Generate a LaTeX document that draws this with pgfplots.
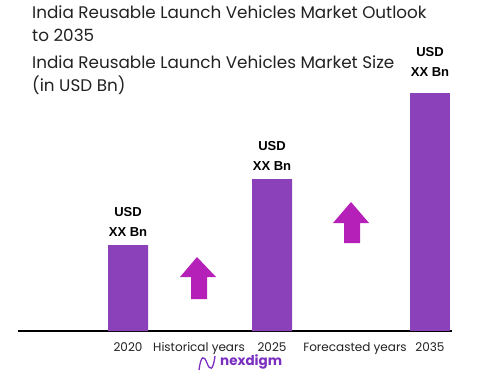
\documentclass[border=0pt]{standalone}
\usepackage{fontspec}
\setmainfont{Poppins}
\newfontfamily\labf{Liberation Sans}
\usepackage{pgfplots}
\pgfplotsset{compat=1.18}
\definecolor{barpurple}{HTML}{8A41B9}
\definecolor{arrowmag}{HTML}{B520B8}
\definecolor{titlegray}{HTML}{222222}
\definecolor{logopurple}{HTML}{7A2FC0}
\begin{document}
\begin{tikzpicture}[x=1pt,y=1pt]
\path[use as bounding box, fill=white] (0,0) rectangle (502,384);
\node[anchor=north west, inner sep=0, align=left, text=titlegray, font=\fontsize{16.8}{23}\selectfont] at (32,378)
  {India Reusable Launch Vehicles Market Outlook\\to 2035};
\node[anchor=north west, inner sep=0, align=left, text=titlegray, font=\fontsize{16.8}{23}\selectfont] at (32,328)
  {India Reusable Launch Vehicles Market Size\\(in USD Bn)};
\begin{axis}[
  at={(18pt,53pt)}, anchor=south west,
  scale only axis, width=434pt, height=271pt,
  xmin=18, xmax=452, ymin=0, ymax=271,
  axis x line=bottom, axis y line=none,
  x axis line style={-, line width=1.5pt, black},
  ytick=\empty,
  xtick={128,199,272,355,430},
  xticklabels={2020,Historical years,2025,Forecasted years,2035},
  major tick length=0pt,
  xticklabel style={font=\fontsize{12}{14}\selectfont, text=titlegray, yshift=-8pt},
  clip=false,
]
\addplot[ybar, bar width=40, fill=barpurple, draw=none,
  nodes near coords={\textbf{USD}\\[7pt]\textbf{XX Bn}},
  every node near coord/.append style={align=center, font=\labf\fontsize{13}{13}\selectfont, text=black, yshift=5pt}]
  coordinates {(128,86) (272,152)};
\addplot[ybar, bar width=40, fill=barpurple, draw=none,
  nodes near coords={\textbf{USD}\\[7pt]\textbf{XX Bn}},
  every node near coord/.append style={align=center, font=\labf\fontsize{13}{13}\selectfont, text=black, yshift=13pt}]
  coordinates {(430,238)};
\addplot[fill=arrowmag, draw=none] coordinates {(197,74) (216,54) (207,54) (207,32) (191,32) (191,54) (180,54)} -- cycle;
\addplot[fill=arrowmag, draw=none] coordinates {(351,129) (369,108) (360,108) (360,88) (344,88) (344,108) (333,108)} -- cycle;
\end{axis}
\draw[logopurple, line width=1.3pt] (199,14) .. controls (201,29) and (204,29) .. (207,21) .. controls (210,13) and (213,13) .. (215,28);
\node[anchor=west, inner sep=0, text=logopurple, font=\fontsize{13.5}{14}\selectfont\bfseries] at (220,22) {nexdigm};
\end{tikzpicture}
\end{document}
